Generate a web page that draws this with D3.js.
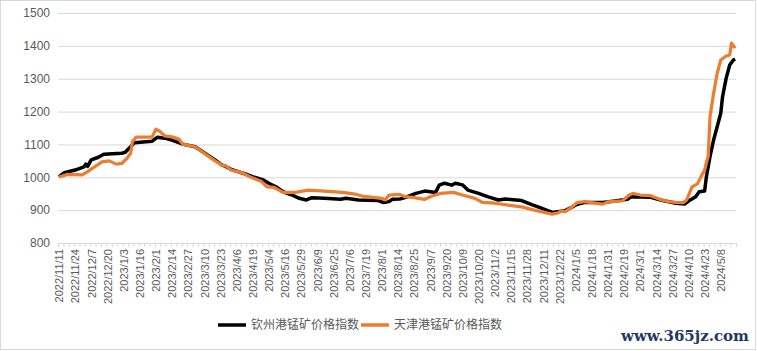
<!DOCTYPE html>
<html>
<head>
<meta charset="utf-8">
<script src="https://cdn.jsdelivr.net/npm/d3@7"></script>
<style>
  body { margin: 0; background: #fff; }
  svg { display: block; }
</style>
</head>
<body>
<svg id="drawing_region"></svg>
<script>
// tick labels on the category axis (one every 9 trading days)
const dateLabels = [
  '2022/11/11','2022/11/24','2022/12/7','2022/12/20','2023/1/3','2023/1/16','2023/2/1',
  '2023/2/14','2023/2/27','2023/3/10','2023/3/23','2023/4/6','2023/4/19','2023/5/4',
  '2023/5/16','2023/5/29','2023/6/9','2023/6/25','2023/7/6','2023/7/19','2023/8/1',
  '2023/8/14','2023/8/25','2023/9/7','2023/9/20','2023/10/9','2023/10/20','2023/11/2',
  '2023/11/15','2023/11/28','2023/12/11','2023/12/22','2024/1/5','2024/1/18','2024/1/31',
  '2024/2/19','2024/3/1','2024/3/14','2024/3/27','2024/4/10','2024/4/23','2024/5/8'
];
const labelEvery = 9;
const dayCount = 378;
const yTicks = [800, 900, 1000, 1100, 1200, 1300, 1400, 1500];

// [trading day index, index value]
const qinzhou = [
  [0,1001],[3,1014],[9,1022],[14,1032],[15,1040],[16,1033],[18,1053],[22,1061],[25,1070],
  [35,1073],[37,1076],[40,1093],[42,1105],[52,1110],[55,1122],[59,1119],[63,1113],[69,1101],
  [76,1093],[87,1053],[91,1037],[93,1033],[96,1024],[104,1010],[109,1000],[114,992],[117,982],
  [121,971],[125,956],[130,946],[134,936],[138,931],[141,938],[148,936],[157,933],[160,936],
  [167,931],[178,929],[181,923],[184,926],[186,933],[190,934],[193,938],[199,951],[204,958],
  [210,954],[212,976],[215,982],[219,976],[221,982],[225,977],[228,961],[234,951],[239,941],
  [245,931],[249,934],[258,929],[264,916],[269,906],[275,893],[279,896],[282,898],[285,906],
  [289,918],[293,923],[303,923],[310,928],[317,933],[319,941],[330,939],[336,930],[344,921],
  [349,919],[352,931],[355,941],[357,956],[360,958],[361,1002],[363,1063],[365,1113],
  [367,1154],[369,1195],[370,1245],[372,1301],[374,1342],[376,1357],[377,1360]
];
const tianjin = [
  [0,1001],[5,1009],[13,1007],[16,1017],[20,1032],[24,1047],[28,1050],[32,1040],[35,1042],
  [38,1058],[40,1073],[41,1108],[43,1122],[52,1122],[54,1146],[56,1141],[59,1126],[63,1123],
  [67,1116],[69,1101],[76,1093],[87,1050],[91,1037],[93,1035],[96,1022],[102,1014],[107,1000],
  [113,987],[116,971],[120,969],[125,954],[132,954],[139,961],[148,958],[158,954],[165,949],
  [169,943],[180,936],[182,931],[184,946],[190,948],[193,941],[198,938],[204,933],[208,943],
  [213,951],[220,954],[225,946],[232,936],[236,924],[243,921],[258,910],[265,900],[275,888],
  [278,891],[280,898],[282,895],[285,905],[289,923],[293,926],[303,918],[306,925],[314,928],
  [318,946],[320,951],[324,946],[330,944],[336,931],[340,926],[344,924],[348,923],[350,931],
  [353,971],[356,980],[358,1002],[360,1022],[361,1045],[362,1063],[363,1184],[365,1255],
  [367,1316],[369,1357],[372,1369],[374,1372],[375,1408],[377,1393]
];

const W = 757, H = 351;
const margin = { top: 13, right: 21, bottom: 108, left: 58 };
const innerW = W - margin.left - margin.right;
const innerH = H - margin.top - margin.bottom;

const svg = d3.select('#drawing_region')
  .attr('width', W)
  .attr('height', H)
  .style('font-family', '"Liberation Sans", Arial, sans-serif');

svg.append('rect')
  .attr('x', 0.5).attr('y', 0.5)
  .attr('width', W - 2).attr('height', H - 2)
  .attr('fill', '#fff')
  .attr('stroke', '#d9d9d9');

const chart = svg.append('g')
  .attr('transform', `translate(${margin.left}, ${margin.top})`);

const xscale = d3.scaleLinear().domain([0, dayCount]).range([0, innerW]);
const yscale = d3.scaleLinear().domain([800, 1500]).range([innerH, 0]);

// gridlines + y labels
const yaxis = d3.axisLeft(yscale)
  .tickValues(yTicks)
  .tickSize(-innerW)
  .tickPadding(8)
  .tickFormat(d3.format('d'));

const yg = chart.append('g').call(yaxis);
yg.select('.domain').remove();
yg.selectAll('line').attr('stroke', '#d9d9d9');
yg.selectAll('text').attr('fill', '#595959').style('font-size', '12px');

// small tick marks every 3 days
const tickAxis = d3.axisBottom(xscale)
  .tickValues(d3.range(0, dayCount + 1, 3))
  .tickSize(4)
  .tickFormat('');
const tg = chart.append('g')
  .attr('transform', `translate(0, ${innerH})`)
  .call(tickAxis);
tg.selectAll('line').attr('stroke', '#d9d9d9');
tg.select('.domain').attr('stroke', '#d9d9d9');

// date labels
const labelAxis = d3.axisBottom(xscale)
  .tickValues(dateLabels.map((d, i) => i * labelEvery + 0.5))
  .tickSize(0)
  .tickFormat((d, i) => dateLabels[i]);
const lg = chart.append('g')
  .attr('transform', `translate(0, ${innerH})`)
  .call(labelAxis);
lg.select('.domain').remove();
lg.selectAll('text')
  .attr('fill', '#595959')
  .style('font-size', '11px')
  .attr('text-anchor', 'end')
  .attr('transform', 'rotate(-90)')
  .attr('x', -6)
  .attr('y', 0)
  .attr('dy', '0.35em');

const line = d3.line()
  .x(d => xscale(d[0] + 0.5))
  .y(d => yscale(d[1]));

chart.append('path')
  .datum(qinzhou)
  .attr('fill', 'none')
  .attr('stroke', '#000')
  .attr('stroke-width', 3.5)
  .attr('stroke-linejoin', 'round')
  .attr('d', line);

chart.append('path')
  .datum(tianjin)
  .attr('fill', 'none')
  .attr('stroke', '#ed7d31')
  .attr('stroke-width', 3.25)
  .attr('stroke-linejoin', 'round')
  .attr('d', line);

// legend
const legend = [
  { name: '钦州港锰矿价格指数', color: '#000', x: 218 },
  { name: '天津港锰矿价格指数', color: '#ed7d31', x: 361 }
];
const lgnd = svg.append('g');
legend.forEach(d => {
  lgnd.append('line')
    .attr('x1', d.x).attr('x2', d.x + 28)
    .attr('y1', 325).attr('y2', 325)
    .attr('stroke', d.color)
    .attr('stroke-width', 3.5);
  lgnd.append('text')
    .attr('x', d.x + 33)
    .attr('y', 329)
    .attr('fill', '#595959')
    .style('font-size', '12px')
    .style('font-family', '"Noto Sans CJK SC", sans-serif')
    .text(d.name);
});

svg.append('text')
  .attr('x', 749)
  .attr('y', 341)
  .attr('text-anchor', 'end')
  .attr('fill', '#1f3864')
  .style('font-family', '"DejaVu Serif", serif')
  .style('font-weight', 'bold')
  .style('font-size', '15px')
  .text('www.365jz.com');
</script>
</body>
</html>
